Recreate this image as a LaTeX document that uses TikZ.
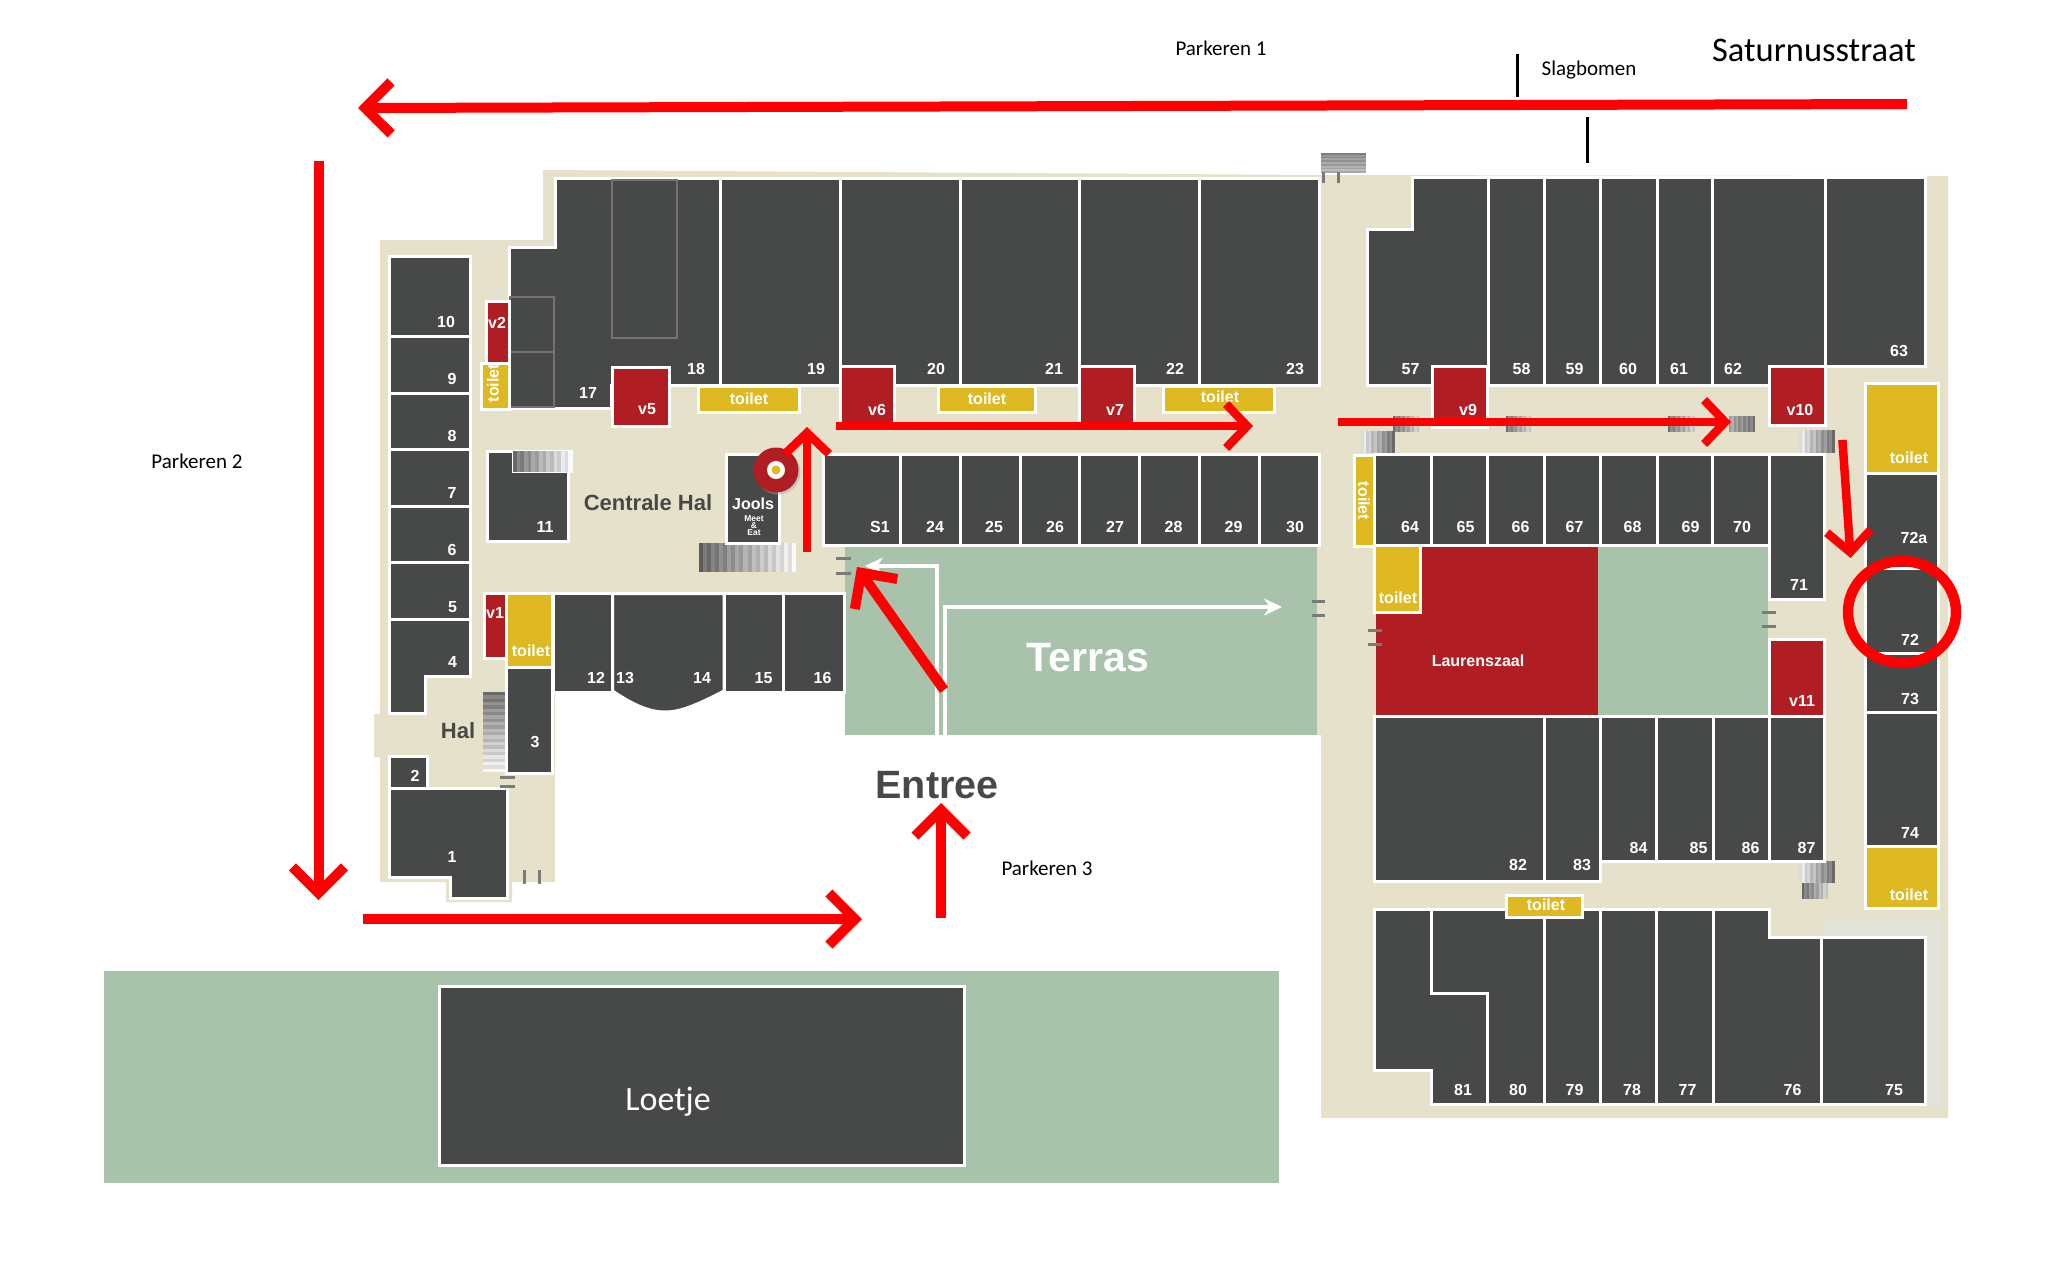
\documentclass[tikz,border=0pt]{standalone}
\usepackage{fontspec}
\setmainfont{Liberation Sans}
\newfontfamily\calloutfont{Carlito}
\usetikzlibrary{arrows.meta}

\definecolor{floorbeige}{HTML}{E5E1CB}
\definecolor{floorpale}{HTML}{E3E3D9}
\definecolor{unitdark}{HTML}{474948}
\definecolor{unitred}{HTML}{B01E24}
\definecolor{unityellow}{HTML}{DFB921}
\definecolor{terrasgreen}{HTML}{A8C2AB}
\definecolor{routered}{HTML}{FF0000}

\tikzset{
    darkunit/.style={fill=unitdark,draw=white,line width=3pt,line join=miter},
    redunit/.style={fill=unitred,draw=white,line width=3pt},
    wcunit/.style={fill=unityellow,draw=white,line width=3pt},
    inner line/.style={draw=black!55,line width=2.5pt},
    numlabel/.style={text=white,inner sep=0pt,font=\fontsize{16}{16}\selectfont\bfseries},
    halllabel/.style={text=unitdark,inner sep=0pt,font=\fontsize{22}{22}\selectfont\bfseries},
    callout/.style={text=black,inner sep=0pt,font=\fontsize{21}{21}\selectfont\calloutfont},
    door/.style={draw=black!52,line width=3pt},
    route/.style={draw=routered,line width=10pt,-{Straight Barb[length=26pt,width=52pt]}},
    thin route/.style={draw=routered,line width=8.5pt,-{Straight Barb[length=21pt,width=44pt]}},
    walk/.style={draw=white,line width=4pt,-{Stealth[length=18pt,width=17pt]}},
    barrier/.style={draw=black,line width=3pt}
}

% stripes across x: x0 y0 x1 y1 grey-from grey-to count
\newcommand{\xstairs}[7]{
    \foreach \i in {1,...,#7}{
        \pgfmathsetmacro{\xa}{#1+(#3-#1)*(\i-1)/#7}
        \pgfmathsetmacro{\xb}{#1+(#3-#1)*\i/#7}
        \pgfmathtruncatemacro{\stairgrey}{#5+(#6-#5)*(\i-1)/(#7-1)+mod(\i,2)*9}
        \fill[black!\stairgrey] (\xa,#2) rectangle (\xb,#4);
    }
}
% stripes down y: x0 y0 x1 y1 grey-from grey-to count
\newcommand{\ystairs}[7]{
    \foreach \i in {1,...,#7}{
        \pgfmathsetmacro{\ya}{#2+(#4-#2)*(\i-1)/#7}
        \pgfmathsetmacro{\yb}{#2+(#4-#2)*\i/#7}
        \pgfmathtruncatemacro{\stairgrey}{#5+(#6-#5)*(\i-1)/(#7-1)+mod(\i,2)*9}
        \fill[black!\stairgrey] (#1,\ya) rectangle (#3,\yb);
    }
}

\begin{document}
\begin{tikzpicture}[x=1pt,y=-1pt]
    \useasboundingbox (0,0) rectangle (2072,1277);

    %floor
    \fill[floorbeige] (543,170) -- (1321,175) -- (1948,176) -- (1948,1118) -- (1321,1118) -- (1321,735)
        -- (846,735) -- (846,592) -- (555,592) -- (555,882) -- (512,882) -- (512,902) -- (446,902)
        -- (446,882) -- (380,882) -- (380,757) -- (374,757) -- (374,714) -- (380,714) -- (380,240)
        -- (543,240) -- cycle;
    \fill[floorpale] (1822,919) rectangle (1941,1106);

    %terraces
    \fill[terrasgreen] (845,546) rectangle (1317,735);
    \fill[terrasgreen] (104,971) rectangle (1279,1183);
    \fill[terrasgreen] (1598,546) rectangle (1768,715);
    \draw[walk] (937,735) -- (937,566) -- (865,566);
    \draw[walk] (945,735) -- (945,607) -- (1282,607);

    %stairs
    \ystairs{1321}{153}{1366}{173}{42}{25}{11}
    \xstairs{699}{543}{796}{572}{55}{2}{24}
    \ystairs{483}{692}{505}{772}{50}{2}{24}
    \xstairs{1361}{431}{1395}{453}{5}{50}{13}
    \xstairs{1393}{416}{1419}{432}{48}{15}{11}
    \xstairs{1506}{416}{1531}{432}{48}{15}{11}
    \xstairs{1668}{416}{1695}{432}{48}{15}{11}
    \xstairs{1729}{416}{1755}{432}{30}{48}{11}
    \xstairs{1799}{430}{1835}{453}{5}{50}{13}
    \xstairs{1799}{861}{1835}{882.5}{5}{50}{13}
    \xstairs{1802}{882.5}{1828}{899}{50}{15}{11}

    %left column
    \foreach \ya/\yb in {256.5/336.5,336.5/393.5,393.5/449.5,449.5/506,506/562.5,562.5/619.5}{
        \draw[darkunit] (389,\ya) rectangle (470,\yb);
    }
    \draw[darkunit] (389,619.5) -- (470,619.5) -- (470,676.5) -- (425,676.5) -- (425,713.5) -- (389,713.5) -- cycle;
    \draw[darkunit] (389,756.5) rectangle (427,788.5);
    \draw[darkunit] (389,788.5) -- (507,788.5) -- (507,898) -- (450,898) -- (450,877) -- (389,877) -- cycle;
    \draw[darkunit] (506.5,667) rectangle (552.5,773);
    \draw[redunit] (484.5,593.5) rectangle (506,658);
    \draw[wcunit] (506.5,593.5) rectangle (552.5,667);
    \draw[darkunit] (487.5,451.5) rectangle (568.5,541.5);
    \fill[white] (512,450) rectangle (573,473);
    \xstairs{513}{451}{572}{472}{50}{2}{16}

    %top row left
    \draw[darkunit] (555,178) -- (720,178) -- (720,385.5) -- (611,385.5) -- (611,408.5) -- (509,408.5) -- (509,247) -- (555,247) -- cycle;
    \draw[inner line] (612,180) rectangle (677,338);
    \draw[inner line] (510,297) rectangle (554,352);
    \draw[inner line] (510,352) rectangle (554,407);
    \foreach \xa/\xb in {720/840,840/960,960/1079.5,1079.5/1199.5,1199.5/1319.5}{
        \draw[darkunit] (\xa,178) rectangle (\xb,385.5);
    }
    \draw[redunit] (486.5,301.5) rectangle (509,363);
    \draw[wcunit] (481.5,363) rectangle (509,409);
    \draw[redunit] (612,367) rectangle (669,426);
    \draw[redunit] (840,366.5) rectangle (894,427);
    \draw[redunit] (1079.5,366.5) rectangle (1134,427);
    \draw[wcunit] (698.5,386) rectangle (799,412.5);
    \draw[wcunit] (938,386) rectangle (1035,412.5);
    \draw[wcunit] (1163,386) rectangle (1274,412.5);

    %centre row
    \draw[darkunit] (726.5,454.5) rectangle (779.5,543.5);
    \foreach \xa/\xb in {823.5/900,900/960,960/1020,1020/1079.5,1079.5/1139.5,1139.5/1199.5,1199.5/1259.5,1259.5/1319.5}{
        \draw[darkunit] (\xa,454.5) rectangle (\xb,545);
    }

    %row below centre hall
    \draw[darkunit] (553.5,593.5) rectangle (612.5,692.5);
    \draw[darkunit] (612.5,593.5) -- (724,593.5) -- (724,691) .. controls (695,706) and (680,712) .. (665,712)
        .. controls (650,712) and (635,706) .. (612.5,691) -- cycle;
    \draw[darkunit] (724,593.5) rectangle (783.5,692.5);
    \draw[darkunit] (783.5,593.5) rectangle (844,692.5);

    %target at Jools
    \fill[black!35,opacity=.5] (778,472) circle (22.5);
    \fill[unitred] (776,470) circle (22.5);
    \fill[white] (776,470) circle (9);
    \fill[unityellow] (776,470) circle (4.5);

    %right block top
    \draw[darkunit] (1412.5,177.5) -- (1488,177.5) -- (1488,366.5) -- (1433,366.5) -- (1433,385.5) -- (1367,385.5) -- (1367,229) -- (1412.5,229) -- cycle;
    \foreach \xa/\xb in {1488/1544,1544/1600,1600/1657.5,1657.5/1712}{
        \draw[darkunit] (\xa,177.5) rectangle (\xb,385.5);
    }
    \draw[darkunit] (1712,177.5) -- (1825,177.5) -- (1825,366.5) -- (1769.5,366.5) -- (1769.5,385.5) -- (1712,385.5) -- cycle;
    \draw[darkunit] (1825,177.5) rectangle (1925,366);
    \draw[redunit] (1432.5,366.5) rectangle (1487.5,427);
    \draw[redunit] (1769.5,366.5) rectangle (1825,425);

    %right block second row
    \draw[wcunit] (1354.5,455) rectangle (1374,546);
    \foreach \xa/\xb in {1374.5/1431,1431/1487.5,1487.5/1544,1544/1600,1600/1657.5,1657.5/1712,1712/1769}{
        \draw[darkunit] (\xa,454.5) rectangle (\xb,545);
    }
    \draw[darkunit] (1769,454.5) rectangle (1824,599);

    %hall
    \fill[unitred] (1376,547) rectangle (1598,715);
    \draw[wcunit] (1374.5,545.5) rectangle (1420,612);
    \draw[redunit] (1769,639.5) rectangle (1824,716.5);
    \draw[draw=white,line width=3pt] (1374.5,545.5) -- (1767,545.5);

    %right column
    \draw[wcunit] (1865.5,383.5) rectangle (1938,473);
    \foreach \ya/\yb in {473/568,568/653,653/712,712/846}{
        \draw[darkunit] (1865.5,\ya) rectangle (1938,\yb);
    }
    \draw[wcunit] (1865.5,846) rectangle (1938,908);

    %rows below hall
    \draw[darkunit] (1374.5,716.5) rectangle (1544,881);
    \draw[darkunit] (1544,716.5) rectangle (1600,881);
    \foreach \xa/\xb in {1600/1656.5,1656.5/1713,1713/1769,1769/1824}{
        \draw[darkunit] (\xa,716.5) rectangle (\xb,861);
    }
    \draw[darkunit] (1374,909.5) -- (1431,909.5) -- (1431,993) -- (1487.5,993) -- (1487.5,1104) -- (1431,1104) -- (1431,1070.5) -- (1374,1070.5) -- cycle;
    \draw[darkunit] (1431,909.5) -- (1544,909.5) -- (1544,1104) -- (1487.5,1104) -- (1487.5,993) -- (1431,993) -- cycle;
    \foreach \xa/\xb in {1544/1600,1600/1656.5,1656.5/1713}{
        \draw[darkunit] (\xa,909.5) rectangle (\xb,1104);
    }
    \draw[darkunit] (1713,909.5) -- (1769,909.5) -- (1769,937.5) -- (1821,937.5) -- (1821,1104) -- (1713,1104) -- cycle;
    \draw[darkunit] (1821,937.5) rectangle (1925.5,1104);
    \draw[wcunit] (1506.5,895.5) rectangle (1582,917);

    %Loetje
    \draw[darkunit] (439,986) rectangle (964,1165);

    %doors
    \foreach \xa/\xb/\y in {836/851/558,836/851/573,500/515/777,500/515/786,1312/1325/601,1312/1325/615,1762/1776/612,1762/1776/626.5,1368/1382/630,1368/1382/644.5}{
        \draw[door] (\xa,\y) -- (\xb,\y);
    }
    \foreach \x/\ya/\yb in {524/870/884,539/870/884,1323.5/172/183,1338/172/183}{
        \draw[door] (\x,\ya) -- (\x,\yb);
    }

    %unit numbers
    \foreach \t/\x/\y in {10/446/322,9/452/379,8/452/436,7/452/493,6/452/550,5/452.5/607,4/452.5/662,3/535/742,2/415/776,1/452/857,
        11/545/527,12/596/678,13/625/678,14/702/678,15/763.5/678,16/822.5/678,17/588/393,18/696/369,19/816/369,
        20/936/369,21/1054/369,22/1175/369,23/1295/369,S1/880/527,24/935/527,25/994/527,26/1055/527,27/1115/527,
        28/1173.5/527,29/1233.5/527,30/1295/527,57/1410.5/369,58/1521.5/369,59/1574.5/369,60/1628/369,61/1679/369,
        62/1733/369,63/1899/351,64/1410/527,65/1465.5/527,66/1520.5/527,67/1574.5/527,68/1632.5/527,69/1690.5/527,
        70/1742/527,71/1799/585,72a/1914/538,72/1910/639.5,73/1910/699,74/1910/833,75/1894/1090,76/1792.5/1090,
        77/1687.5/1090,78/1632/1090,79/1574.5/1090,80/1518/1090,81/1463/1090,82/1518/864.5,83/1582/864.5,
        84/1638.5/848,85/1698.5/848,86/1750.5/848,87/1806.5/848,
        v1/495/613,v2/497/323,v5/647/409,v6/877/410,v7/1115/410,v9/1468/410,v10/1800/410,v11/1802/701}{
        \node[numlabel] (u\t) at (\x,\y) {\t};
    }

    %toilet labels
    \foreach \n/\x/\y in {a/749/399,b/987/399,c/1220/397,d/531/651,e/1909/458,f/1909/895,g/1398/597.5,h/1546/905}{
        \node[numlabel] (wc\n) at (\x,\y) {toilet};
    }
    \node[numlabel,rotate=90] (wcleft) at (493,383) {toilet};
    \node[numlabel,rotate=-90] (wcright) at (1364,501) {toilet};

    %names
    \node[halllabel] (centrale) at (648,503) {Centrale Hal};
    \node[halllabel] (hal) at (458,731) {Hal};
    \node[numlabel] (jools) at (753,504) {Jools};
    \node[numlabel,font=\fontsize{8.5}{7}\selectfont\bfseries,align=center] (meet) at (754,526) {Meet\\\&\\Eat};
    \node[numlabel] (laurenszaal) at (1478,660.5) {Laurenszaal};
    \node[text=white,inner sep=0pt,font=\fontsize{41}{41}\selectfont\bfseries] (terras) at (1088,658) {Terras};
    \node[text=unitdark,inner sep=0pt,font=\fontsize{39.5}{39.5}\selectfont\bfseries] (entree) at (937,785) {Entree};
    \node[text=white,inner sep=0pt,font=\fontsize{34}{34}\selectfont\calloutfont] (loetje) at (668,1102) {Loetje};

    %street texts
    \node[callout] (parkeren1) at (1221,48) {Parkeren 1};
    \node[callout] (parkeren2) at (197,461) {Parkeren 2};
    \node[callout] (parkeren3) at (1047,868) {Parkeren 3};
    \node[callout] (slagbomen) at (1589,70) {Slagbomen};
    \node[callout,font=\fontsize{34.5}{34.5}\selectfont\calloutfont] (saturnus) at (1814,50) {Saturnusstraat};
    \draw[barrier] (1517,54) -- (1517,97);
    \draw[barrier] (1587,117) -- (1587,163);

    %route arrows
    \draw[route] (1907,104) -- (358,108);
    \draw[route] (318.5,161) -- (318.5,900);
    \draw[route] (363,919) -- (862,919);
    \draw[route] (941,918) -- (941,803);
    \draw[route] (944,690) -- (857,567);
    \draw[thin route] (807,552) -- (807,427);
    \draw[thin route] (836,426) -- (1253,426);
    \draw[thin route] (1338,422) -- (1731,422);
    \draw[thin route] (1842.4,440) -- (1850.6,558);
    \draw[routered,line width=10.5pt] (1902,612) ellipse (54 and 51);
\end{tikzpicture}
\end{document}
